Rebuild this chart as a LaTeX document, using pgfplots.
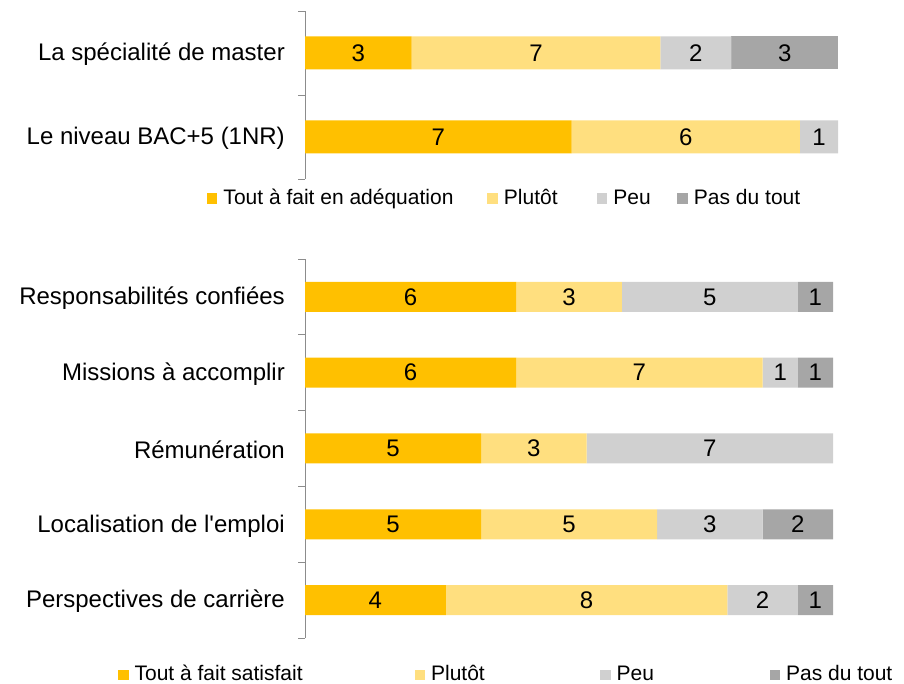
\documentclass[border=0pt]{standalone}
\usepackage{pgfplots}
\pgfplotsset{compat=1.18}
\usepackage{fontspec}
\setmainfont{Liberation Sans}[Ligatures=TeXOff]
\definecolor{cA}{HTML}{FFC000}
\definecolor{cB}{HTML}{FFDF7F}
\definecolor{cC}{HTML}{D0D0D0}
\definecolor{cD}{HTML}{A6A6A6}
\definecolor{axgray}{HTML}{8C8C8C}
\newcommand{\lab}{\fontsize{24}{28}\selectfont}
\newcommand{\leg}{\fontsize{21}{25}\selectfont}
\pgfplotsset{
  common/.style={
    xbar stacked,
    scale only axis,
    xmin=0,
    enlargelimits=false,
    clip=false,
    axis x line=none,
    axis y line=left,
    axis line style={-, draw=axgray, line width=0.9pt},
    ytick pos=left,
    tick align=outside,
    major tick length=0pt,
    minor tick length=7pt,
    every minor tick/.append style={draw=axgray, line width=0.9pt},
    yticklabel style={font=\lab, inner sep=0pt, anchor=east, xshift=-20pt, yshift=-1.5pt},
    point meta=explicit,
    /pgf/number format/assume math mode=true,
    nodes near coords={\pgfmathfloatifflags{\pgfplotspointmeta}{0}{}{\pgfmathprintnumber{\pgfplotspointmeta}}},
    every node near coord/.append style={font=\lab, text=black, anchor=center},
    legend columns=4,
    legend cell align=left,
    legend image code/.code={\fill[##1] (0pt,-4.5pt) rectangle (10.5pt,6pt);},
    legend style={draw=none, fill=none, anchor=west, inner sep=0pt, outer sep=0pt,
      column sep=0pt, nodes={inner sep=0pt, font=\leg, text height=15pt, text depth=4.5pt},
      /tikz/every odd column/.append style={column sep=6pt}},
  },
  sA/.style={fill=cA, draw=none},
  sB/.style={fill=cB, draw=none},
  sC/.style={fill=cC, draw=none},
  sD/.style={fill=cD, draw=none},
}
\begin{document}
\begin{tikzpicture}
\useasboundingbox (0pt,0pt) rectangle (904pt,684pt);
% Top panel: 100% stacked bars (share in percent), labels are the counts
\begin{axis}[common,
  at={(305pt,505pt)}, anchor=south west,
  width=533pt, height=168pt,
  xmax=100,
  ymin=-0.5, ymax=1.5,
  ytick={0,1},
  yticklabels={Le niveau BAC+5 (1NR), La spécialité de master},
  minor ytick={-0.5,0.5,1.5},
  bar width=33pt,
  legend style={at={(-0.1839,-0.122)}},
]
\addplot[sA] coordinates {(50,0) [7] (20,1) [3]};
\addplot[sB] coordinates {(42.857,0) [6] (46.667,1) [7]};
\addplot[sC] coordinates {(7.143,0) [1] (13.333,1) [2]};
\addplot[sD] coordinates {(0,0) [0] (20,1) [3]};
\addlegendentry{\makebox[264pt][l]{Tout à fait en adéquation}}
\addlegendentry{\makebox[93pt][l]{Plutôt}}
\addlegendentry{\makebox[64pt][l]{Peu}}
\addlegendentry{Pas du tout}
\end{axis}
% Bottom panel: counts out of 15
\begin{axis}[common,
  at={(305pt,46pt)}, anchor=south west,
  width=528pt, height=379pt,
  xmax=15,
  ymin=-0.5, ymax=4.5,
  ytick={0,1,2,3,4},
  yticklabels={Perspectives de carrière, Localisation de l'emploi, Rémunération, Missions à accomplir, Responsabilités confiées},
  minor ytick={-0.5,0.5,1.5,2.5,3.5,4.5},
  bar width=30pt,
  legend style={at={(-0.354,-0.099)}},
]
\addplot[sA] coordinates {(4,0) [4] (5,1) [5] (5,2) [5] (6,3) [6] (6,4) [6]};
\addplot[sB] coordinates {(8,0) [8] (5,1) [5] (3,2) [3] (7,3) [7] (3,4) [3]};
\addplot[sC] coordinates {(2,0) [2] (3,1) [3] (7,2) [7] (1,3) [1] (5,4) [5]};
\addplot[sD] coordinates {(1,0) [1] (2,1) [2] (0,2) [0] (1,3) [1] (1,4) [1]};
\addlegendentry{\makebox[280pt][l]{Tout à fait satisfait}}
\addlegendentry{\makebox[169pt][l]{Plutôt}}
\addlegendentry{\makebox[153pt][l]{Peu}}
\addlegendentry{Pas du tout}
\end{axis}
\end{tikzpicture}
\end{document}
